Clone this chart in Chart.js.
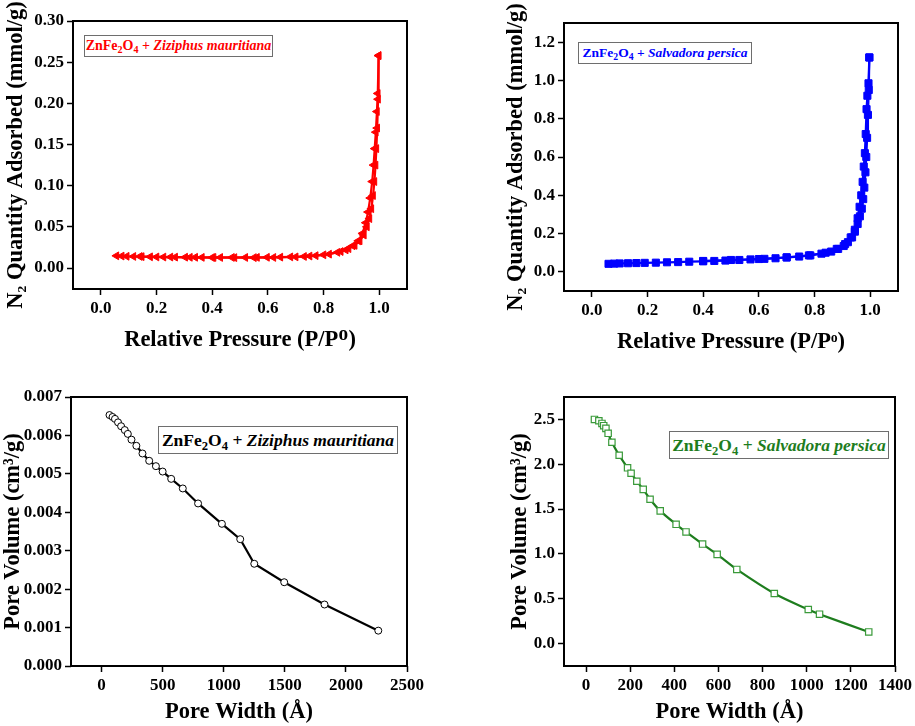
<!DOCTYPE html>
<html><head><meta charset="utf-8">
<script src="https://cdn.jsdelivr.net/npm/chart.js@4.4.0/dist/chart.umd.min.js"></script>
<style>
html,body{margin:0;padding:0;background:#fff;width:915px;height:726px;overflow:hidden}
#wrap{position:relative;width:915px;height:726px}
canvas{position:absolute}
.lg{position:absolute;box-sizing:border-box;border:1px solid #6e6e6e;background:#fff;font-family:"Liberation Serif","Times New Roman",serif;font-weight:bold;white-space:nowrap;display:flex;align-items:center;justify-content:center}
.lg sub{font-size:72%;vertical-align:-0.3em;line-height:0}
</style></head>
<body><div id="wrap">
<canvas id="c1" width="455" height="365" style="left:0;top:0"></canvas>
<canvas id="c2" width="460" height="365" style="left:455px;top:0"></canvas>
<canvas id="c3" width="455" height="361" style="left:0;top:365px"></canvas>
<canvas id="c4" width="460" height="361" style="left:455px;top:365px"></canvas>
<div class="lg" style="left:84px;top:35px;width:189px;height:22px;font-size:14px;color:#ff0000"><span>ZnFe<sub>2</sub>O<sub>4</sub> + <i>Ziziphus mauritiana</i></span></div>
<div class="lg" style="left:578px;top:42px;width:174px;height:22px;font-size:13.5px;color:#0000ff"><span>ZnFe<sub>2</sub>O<sub>4</sub> + <i>Salvadora persica</i></span></div>
<div class="lg" style="left:158px;top:426px;width:240px;height:28px;font-size:17.5px;color:#000"><span>ZnFe<sub>2</sub>O<sub>4</sub> + <i>Ziziphus mauritiana</i></span></div>
<div class="lg" style="left:669px;top:431px;width:220px;height:28px;font-size:17.5px;color:#1e7d1e"><span>ZnFe<sub>2</sub>O<sub>4</sub> + <i>Salvadora persica</i></span></div>
</div>
<script>
// ---- Panel 1: ZnFe2O4 + Ziziphus mauritiana, N2 isotherm ----
const zmAdsP = [0.056,0.075,0.093,0.117,0.147,0.177,0.2,0.225,0.267,0.303,0.339,0.363,0.405,0.429,0.471,0.519,0.561,0.597,0.645,0.681,0.73,0.772,0.82,0.862,0.89,0.912,0.93,0.945,0.956,0.965,0.972,0.978,0.983,0.987,0.99,0.993,0.996,0.998];
const zmAdsQ = [0.0148,0.0145,0.0142,0.0140,0.0138,0.0136,0.0134,0.0133,0.0132,0.0131,0.0130,0.0129,0.0128,0.0128,0.0128,0.0128,0.0129,0.0130,0.0132,0.0135,0.0140,0.0150,0.0168,0.0200,0.0235,0.0275,0.033,0.040,0.050,0.060,0.072,0.088,0.105,0.125,0.145,0.170,0.205,0.258];
const zmDesP = [0.998,0.995,0.992,0.988,0.984,0.98,0.975,0.968,0.96,0.952,0.94,0.925,0.905,0.88,0.85,0.8,0.75,0.7,0.62,0.55,0.48,0.4,0.32,0.25,0.14];
const zmDesQ = [0.258,0.212,0.19,0.165,0.145,0.125,0.105,0.085,0.068,0.055,0.042,0.033,0.027,0.022,0.019,0.016,0.0145,0.0135,0.0128,0.0126,0.0126,0.0127,0.013,0.0133,0.014];
// ---- Panel 2: ZnFe2O4 + Salvadora persica, N2 isotherm ----
const spAdsP = [0.06,0.08,0.1,0.13,0.16,0.19,0.23,0.27,0.31,0.35,0.4,0.44,0.48,0.53,0.57,0.62,0.66,0.70,0.745,0.785,0.825,0.86,0.885,0.905,0.92,0.935,0.945,0.955,0.963,0.97,0.975,0.979,0.983,0.986,0.989,0.992,0.995,0.997];
const spAdsQ = [0.042,0.043,0.044,0.045,0.046,0.047,0.048,0.05,0.051,0.053,0.055,0.057,0.059,0.062,0.065,0.068,0.071,0.075,0.08,0.086,0.095,0.106,0.12,0.135,0.155,0.18,0.21,0.25,0.29,0.33,0.38,0.44,0.52,0.6,0.7,0.82,0.95,1.12];
const spDesP = [0.997,0.994,0.99,0.987,0.984,0.981,0.977,0.973,0.968,0.962,0.955,0.945,0.93,0.91,0.88,0.84,0.78,0.7,0.6,0.5,0.4];
const spDesQ = [1.12,0.985,0.92,0.85,0.72,0.62,0.55,0.47,0.40,0.34,0.28,0.22,0.18,0.145,0.12,0.1,0.086,0.076,0.067,0.062,0.057];
// ---- Panel 3: pore volume vs width, Ziziphus mauritiana ----
const zmWidth = [65,90,110,135,160,190,215,245,285,335,390,445,500,570,665,790,985,1135,1250,1495,1825,2265];
const zmVol = [0.00653,0.00648,0.00643,0.00634,0.00624,0.00614,0.00604,0.00589,0.00573,0.00553,0.00534,0.0052,0.00506,0.00487,0.00462,0.00423,0.0037,0.0033,0.00266,0.00218,0.0016,0.00092];
// ---- Panel 4: pore volume vs width, Salvadora persica ----
const spWidth = [38,58,72,80,90,100,117,150,188,204,230,259,290,336,408,453,528,594,683,853,1007,1058,1281];
const spVol = [2.50,2.485,2.455,2.43,2.40,2.345,2.245,2.10,1.96,1.90,1.81,1.72,1.61,1.48,1.33,1.245,1.11,0.995,0.827,0.559,0.38,0.328,0.13];
// ---- tick labels ----
const pressureTicks = [0.0,0.2,0.4,0.6,0.8,1.0];
const zmQtyTicks = [0.00,0.05,0.10,0.15,0.20,0.25,0.30];
const spQtyTicks = [0.0,0.2,0.4,0.6,0.8,1.0,1.2];
const zmWidthTicks = [0,500,1000,1500,2000,2500];
const zmVolTicks = [0.000,0.001,0.002,0.003,0.004,0.005,0.006,0.007];
const spWidthTicks = [0,200,400,600,800,1000,1200,1400];
const spVolTicks = [0.0,0.5,1.0,1.5,2.0,2.5];

const serif = "'Liberation Serif','Times New Roman',serif";
const pts = (xs, ys) => xs.map((x, i) => ({x: x, y: ys[i]}));

const framePlugin = {
  id: 'frame',
  afterDatasetsDraw(chart) {
    const a = chart.chartArea, c = chart.ctx;
    c.save(); c.strokeStyle = '#000'; c.lineWidth = 2;
    c.strokeRect(a.left, a.top, a.right - a.left, a.bottom - a.top);
    c.restore();
  }
};

function axis(spec, isX, L) {
  return {
    type: 'linear', min: spec.min, max: spec.max,
    afterBuildTicks: s => { s.ticks = spec.ticks.map(v => ({value: v})); },
    afterFit: s => { if (isX) s.height = L.xH; else s.width = L.yW; },
    ticks: {font: {family: serif, size: 17, weight: 'bold'}, color: '#000', padding: 3,
            maxRotation: 0, autoSkip: false, callback: v => Number(v).toFixed(spec.dec)},
    grid: {drawOnChartArea: false, drawTicks: true, tickLength: 6, tickWidth: 1.5, tickColor: '#000'},
    border: {display: false},
    title: {display: true, text: spec.title, color: '#000', padding: 0,
            font: {family: serif, size: 22.5, weight: 'bold'}}
  };
}

function panel(id, L, datasets, xs, ys) {
  new Chart(document.getElementById(id), {
    type: 'scatter',
    data: {datasets: datasets},
    options: {
      responsive: false, animation: false, devicePixelRatio: 1,
      layout: {padding: {left: L.padL, right: L.padR, top: L.padT, bottom: L.padB}},
      plugins: {legend: {display: false}, tooltip: {enabled: false}},
      scales: {x: axis(xs, true, L), y: axis(ys, false, L)}
    },
    plugins: [framePlugin]
  });
}

function iso(data, color, style, r, rot) {
  return {data: data, showLine: true, borderColor: color, backgroundColor: color, borderWidth: 2.2,
          pointStyle: style, pointRadius: r, rotation: rot, pointBorderWidth: 1, tension: 0};
}

panel('c1', {padL: 2.5, padR: 48, padT: 21, padB: 11.5, yW: 70.5, xH: 64.5},
  [iso(pts(zmAdsP, zmAdsQ), '#ff0000', 'triangle', 4.5, -90),
   iso(pts(zmDesP, zmDesQ), '#ff0000', 'triangle', 4.5, -90)],
  {min: -0.1, max: 1.1, ticks: pressureTicks, dec: 1, title: 'Relative Pressure (P/P\u1D3C)'},
  {min: -0.0255, max: 0.30, ticks: zmQtyTicks, dec: 2, title: 'N\u2082 Quantity Adsorbed (mmol/g)'});

panel('c2', {padL: 47.5, padR: 17, padT: 23, padB: 9.5, yW: 61.5, xH: 64.5},
  [iso(pts(spAdsP, spAdsQ), '#0000ff', 'rect', 5, 0),
   iso(pts(spDesP, spDesQ), '#0000ff', 'rect', 5, 0)],
  {min: -0.1, max: 1.1, ticks: pressureTicks, dec: 1, title: 'Relative Pressure (P/P\u1D52)'},
  {min: -0.1, max: 1.3, ticks: spQtyTicks, dec: 1, title: 'N\u2082 Quantity Adsorbed (mmol/g)'});

panel('c3', {padL: 0, padR: 48, padT: 32, padB: 0, yW: 71, xH: 60},
  [{data: pts(zmWidth, zmVol), showLine: true, borderColor: '#000', backgroundColor: '#fff', borderWidth: 2.2,
    pointStyle: 'circle', pointRadius: 3.5, pointBorderWidth: 1, pointBorderColor: '#000', pointBackgroundColor: '#fff', tension: 0}],
  {min: -250, max: 2500, ticks: zmWidthTicks, dec: 0, title: 'Pore Width (\u00C5)'},
  {min: 0, max: 0.007, ticks: zmVolTicks, dec: 3, title: 'Pore Volume (cm\u00B3/g)'});

panel('c4', {padL: 51.5, padR: 18, padT: 32, padB: 0, yW: 57.5, xH: 60},
  [{data: pts(spWidth, spVol), showLine: true, borderColor: '#1e7d1e', backgroundColor: '#fff', borderWidth: 2.2,
    pointStyle: 'rect', pointRadius: 4.5, pointBorderWidth: 1.2, pointBorderColor: '#3a9a3a', pointBackgroundColor: '#fff', tension: 0.3}],
  {min: -100, max: 1400, ticks: spWidthTicks, dec: 0, title: 'Pore Width (\u00C5)'},
  {min: -0.25, max: 2.75, ticks: spVolTicks, dec: 1, title: 'Pore Volume (cm\u00B3/g)'});
</script>
</body></html>
